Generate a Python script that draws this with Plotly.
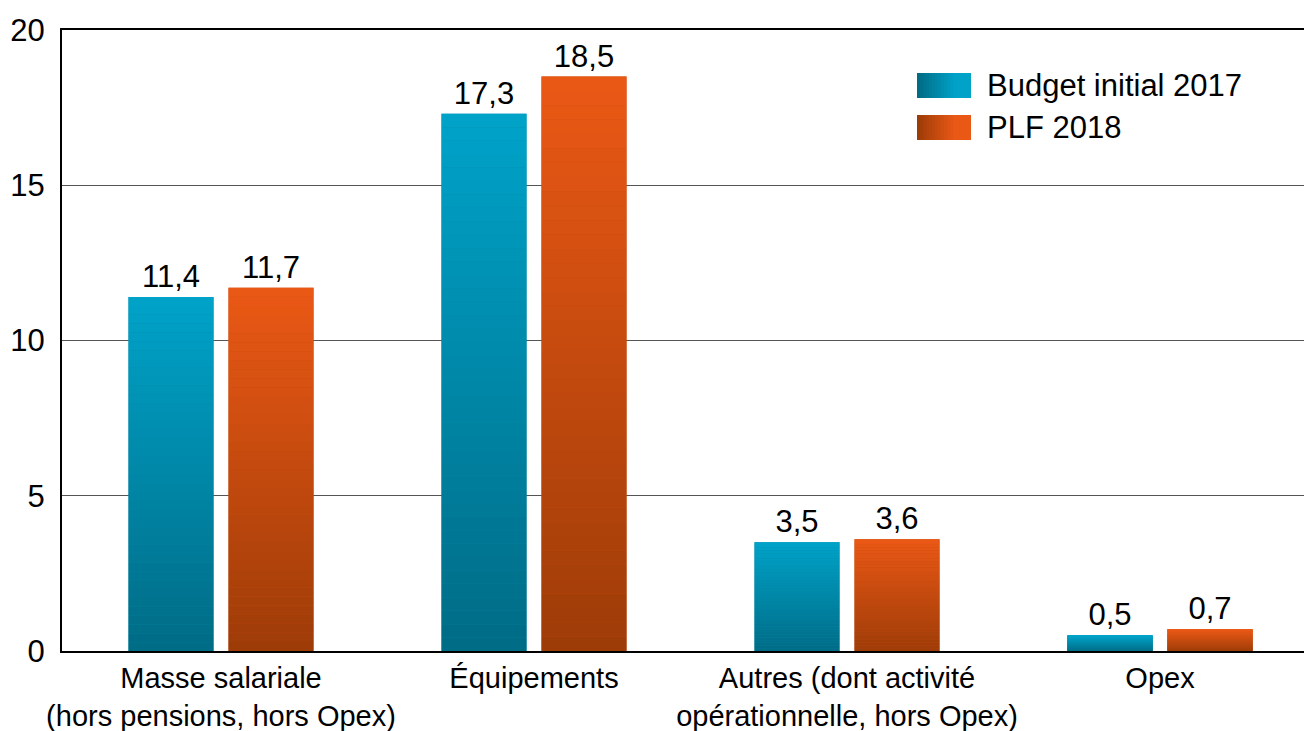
import plotly.graph_objects as go

categories = [
    "Masse salariale<br>(hors pensions, hors Opex)",
    "Équipements",
    "Autres (dont activité<br>opérationnelle, hors Opex)",
    "Opex",
]
series_names = ["Budget initial 2017", "PLF 2018"]
budget_2017 = [11.4, 17.3, 3.5, 0.5]
plf_2018 = [11.7, 18.5, 3.6, 0.7]
y_ticks = [0, 5, 10, 15, 20]

# colour ramps (bottom dark -> top light)
ramps = {
    "Budget initial 2017": ((0x00, 0x6C, 0x86), (0x00, 0xA2, 0xC8)),
    "PLF 2018": ((0x9E, 0x3C, 0x08), (0xEA, 0x58, 0x15)),
}

def lerp(c0, c1, t):
    return "rgb(%d,%d,%d)" % tuple(round(a + (b - a) * t) for a, b in zip(c0, c1))

FONT = "Liberation Sans, Arial, Helvetica, sans-serif"
FS = 31
N = 40

fig = go.Figure()
for name, vals in zip(series_names, [budget_2017, plf_2018]):
    dark, light = ramps[name]
    # full bar carrying the value label
    fig.add_trace(go.Bar(
        x=categories, y=vals, name=name, offsetgroup=name,
        marker=dict(color=lerp(dark, light, 0.5), line=dict(width=0)),
        texttemplate="%{y:.1f}", textposition="outside",
        textfont=dict(size=FS, color="black", family=FONT),
        cliponaxis=False, showlegend=False, hoverinfo="skip",
    ))
    # vertical gradient drawn as stacked slices of each bar
    for k in range(N):
        t = k / (N - 1)
        fig.add_trace(go.Bar(
            x=categories, y=[v / N for v in vals], base=[v * k / N for v in vals],
            offsetgroup=name, marker=dict(color=lerp(dark, light, t), line=dict(width=0)),
            showlegend=False, hoverinfo="skip",
        ))

# plot area in pixels
L, R, T, B = 62, 1304, 30, 651
W, H = R - L, B - T
def px(x):
    return (x - L) / W
def py(y):
    return (B - y) / H

shapes = []
annotations = []
legend_rows = [(series_names[0], 73, 98), (series_names[1], 115, 140)]
for name, y0, y1 in legend_rows:
    dark, light = ramps[name]
    sx0, sx1 = 917, 971
    ns = 18
    for i in range(ns):
        a = sx0 + (sx1 - sx0) * i / ns
        b = sx0 + (sx1 - sx0) * (i + 1) / ns + 0.6
        shapes.append(dict(type="rect", xref="paper", yref="paper",
                           x0=px(a), x1=px(min(b, sx1)), y0=py(y1), y1=py(y0),
                           fillcolor=lerp(dark, light, min(1, i / (ns - 1) * 1.4)),
                           line=dict(width=0), layer="above"))
    annotations.append(dict(xref="paper", yref="paper", x=px(985), y=py((y0 + y1) / 2),
                            text=name, showarrow=False, xanchor="left", yanchor="middle",
                            font=dict(size=FS, color="black", family=FONT)))

fig.update_layout(
    width=1304, height=731,
    margin=dict(l=L, r=1304 - R, t=T, b=731 - B, autoexpand=False),
    paper_bgcolor="white", plot_bgcolor="white",
    barmode="group", bargap=0.361, bargroupgap=0.15,
    separators=", ",
    showlegend=False,
    font=dict(family=FONT, color="black", size=FS),
    shapes=shapes, annotations=annotations,
    xaxis=dict(
        range=[-0.508, 3.46], showline=True, linecolor="black", linewidth=2,
        mirror=True, ticks="", showgrid=False, fixedrange=True, automargin=False,
        tickfont=dict(size=29, family=FONT, color="black"),
    ),
    yaxis=dict(
        range=[0, 20], tickvals=y_ticks, showline=True, linecolor="black", linewidth=2,
        showgrid=True, gridcolor="#555555", gridwidth=1, zeroline=False, ticks="",
        ticklabelstandoff=9, fixedrange=True, automargin=False,
        tickfont=dict(size=FS, family=FONT, color="black"),
    ),
)

fig.write_html("out.html")
